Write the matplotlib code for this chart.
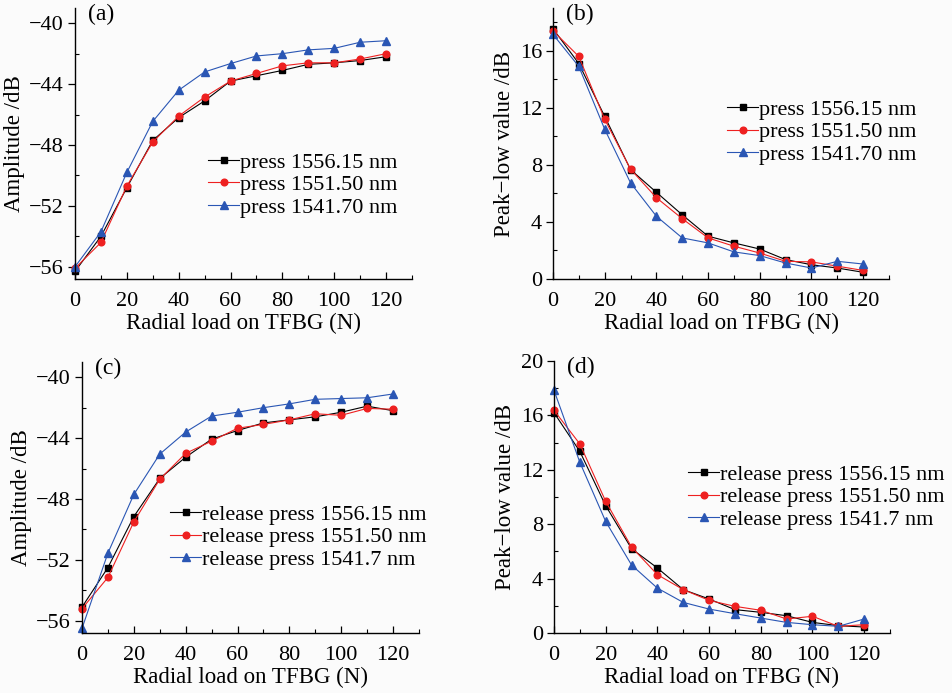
import numpy as np
import matplotlib
matplotlib.use('Agg')
import matplotlib.pyplot as plt
from matplotlib.ticker import MultipleLocator

plt.rcParams['font.family'] = ['Liberation Serif', 'DejaVu Serif']

# radial load (N)
load = [0, 10, 20, 30, 40, 50, 60, 70, 80, 90, 100, 110, 120]

# (a) press, amplitude (dB)
amp_press_1556 = [-56.3, -54.0, -50.8, -47.7, -46.2, -45.1, -43.8, -43.45, -43.1, -42.7, -42.6, -42.45, -42.2]
amp_press_1551 = [-56.1, -54.4, -50.7, -47.8, -46.1, -44.85, -43.8, -43.3, -42.8, -42.6, -42.6, -42.35, -42.0]
amp_press_1541 = [-56.0, -53.7, -49.8, -46.45, -44.4, -43.2, -42.65, -42.15, -42.0, -41.75, -41.65, -41.25, -41.15]

# (b) press, peak-low value (dB)
pl_press_1556 = [17.55, 15.1, 11.4, 7.67, 6.08, 4.5, 3.0, 2.53, 2.1, 1.36, 1.0, 0.77, 0.47]
pl_press_1551 = [17.4, 15.6, 11.2, 7.7, 5.7, 4.23, 2.88, 2.3, 1.82, 1.24, 1.2, 0.9, 0.6]
pl_press_1541 = [17.15, 14.9, 10.5, 6.74, 4.4, 2.88, 2.53, 1.9, 1.64, 1.12, 0.77, 1.24, 1.05]

# (c) release press, amplitude (dB)
amp_rel_1556 = [-55.1, -52.5, -49.15, -46.65, -45.25, -44.07, -43.5, -43.0, -42.8, -42.6, -42.3, -41.9, -42.2]
amp_rel_1551 = [-55.2, -53.15, -49.5, -46.7, -45.0, -44.2, -43.35, -43.1, -42.8, -42.4, -42.5, -42.05, -42.1]
amp_rel_1541 = [-56.5, -51.55, -47.7, -45.05, -43.6, -42.55, -42.3, -42.0, -41.75, -41.45, -41.4, -41.35, -41.1]

# (d) release press, peak-low value (dB)
pl_rel_1556 = [16.2, 13.35, 9.36, 6.2, 4.78, 3.19, 2.5, 1.72, 1.52, 1.27, 0.78, 0.54, 0.44]
pl_rel_1551 = [16.37, 13.9, 9.68, 6.32, 4.29, 3.19, 2.4, 1.96, 1.67, 1.03, 1.23, 0.49, 0.61]
pl_rel_1541 = [17.85, 12.55, 8.2, 5.0, 3.3, 2.25, 1.76, 1.42, 1.1, 0.78, 0.61, 0.49, 1.03]

press_labels = ['press 1556.15 nm', 'press 1551.50 nm', 'press 1541.70 nm']
release_labels = ['release press 1556.15 nm', 'release press 1551.50 nm', 'release press 1541.7 nm']

colors = ['#000000', '#ee2020', '#2a56b4']
markers = ['s', 'o', '^']
msizes = [4.2, 4.8, 6]

bg = '#fbfbfb'
fig = plt.figure(figsize=(9.52, 6.93), dpi=100, facecolor=bg)

W, H = 952.0, 693.0


def make_ax(left, right, top, bottom):
    return fig.add_axes([left / W, 1 - bottom / H, (right - left) / W, (bottom - top) / H], facecolor=bg)


panels = [
    # axes box px, series, labels, ylim, yticks, ylabel, tag, legend anchor
    ((75, 412, 8, 279), [amp_press_1556, amp_press_1551, amp_press_1541], press_labels,
     (-56.8, -39), [-56, -52, -48, -44, -40], 'Amplitude /dB', '(a)', (0.395, 0.347)),
    ((553, 889, 8, 279), [pl_press_1556, pl_press_1551, pl_press_1541], press_labels,
     (0, 19), [0, 4, 8, 12, 16], 'Peak\u2212low value /dB', '(b)', (0.518, 0.542)),
    ((82, 419, 362, 633), [amp_rel_1556, amp_rel_1551, amp_rel_1541], release_labels,
     (-56.8, -39), [-56, -52, -48, -44, -40], 'Amplitude /dB', '(c)', (0.261, 0.354)),
    ((554, 890, 361, 633), [pl_rel_1556, pl_rel_1551, pl_rel_1541], release_labels,
     (0, 20), [0, 4, 8, 12, 16, 20], 'Peak\u2212low value /dB', '(d)', (0.399, 0.5)),
]

for box, series, labels, ylim, yticks, ylabel, tag, anchor in panels:
    ax = make_ax(*box)
    for y, lab, c, m, ms in zip(series, labels, colors, markers, msizes):
        ax.plot(load, y, color=c, lw=0.8, marker=m, ms=ms, label=lab, clip_on=False)
    ax.set_xlim(0, 130)
    ax.set_ylim(*ylim)
    ax.set_xticks([0, 20, 40, 60, 80, 100, 120])
    ax.xaxis.set_minor_locator(MultipleLocator(10))
    ax.set_yticks(yticks)
    ax.yaxis.set_minor_locator(MultipleLocator(2))
    ax.set_yticklabels([str(v).replace('-', '\u2212') for v in yticks])
    ax.tick_params(axis='both', which='major', labelsize=16, length=5, width=0.9, direction='in')
    ax.tick_params(axis='both', which='minor', length=3, width=0.8, direction='in')
    ax.tick_params(axis='y', which='major', direction='out', pad=3)
    ax.tick_params(axis='x', which='major', pad=9)
    for s in ['top', 'right']:
        ax.spines[s].set_visible(False)
    for s in ['left', 'bottom']:
        ax.spines[s].set_linewidth(1.0)
    ax.set_xlabel('Radial load on TFBG (N)', fontsize=16.5, labelpad=2)
    ax.set_ylabel(ylabel, fontsize=16.5, labelpad=3)
    ax.text(0.04, 0.975, tag, transform=ax.transAxes, fontsize=17, va='center', ha='left')
    ax.legend(loc='center left', bbox_to_anchor=anchor, frameon=False, fontsize=16,
              borderpad=0, borderaxespad=0, handlelength=1.4, handletextpad=0.05,
              labelspacing=0.08)

fig.savefig('out.png', dpi=100, facecolor=bg)
